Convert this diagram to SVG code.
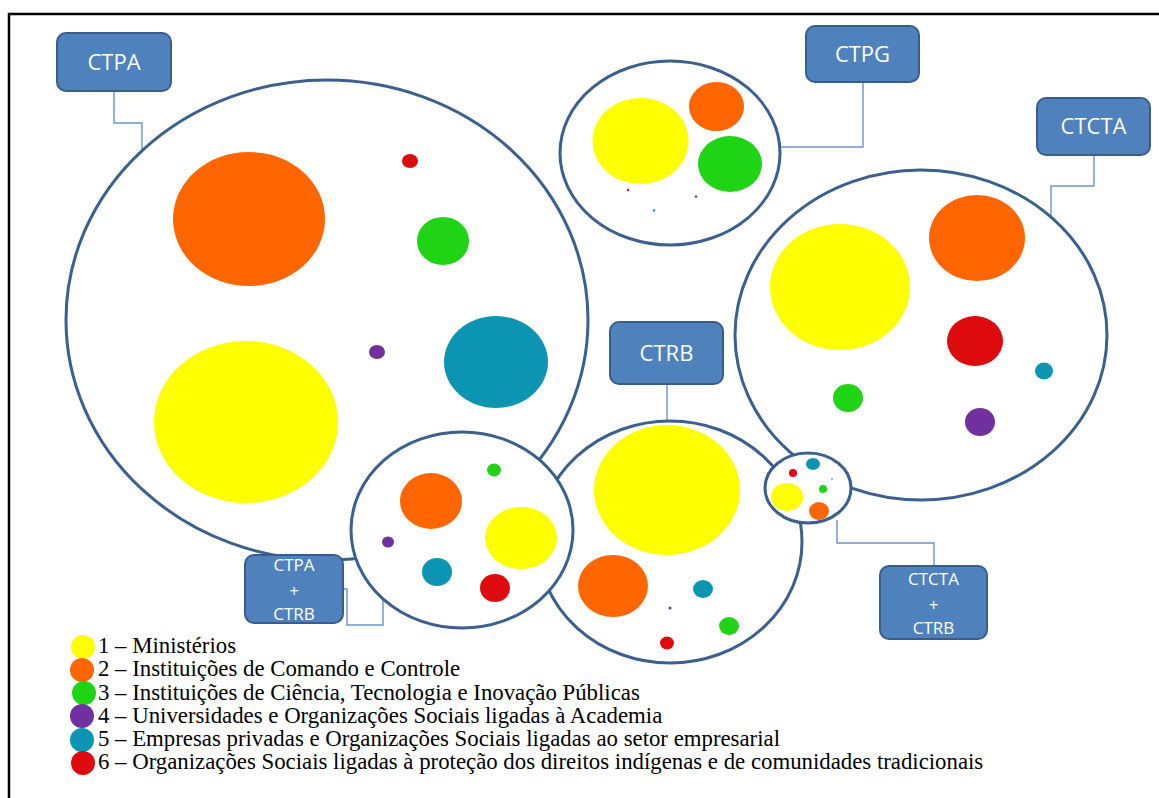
<svg xmlns="http://www.w3.org/2000/svg" width="1159" height="798" viewBox="0 0 1159 798">
<style>
.grp{fill:#fff;stroke:#3A6090;stroke-width:3}
.box{fill:#4F81BD;stroke:#385D8A;stroke-width:2}
.lbl{fill:#fff;font-family:"Open Sans","Liberation Sans",sans-serif;text-anchor:middle}
.conn{fill:none;stroke:#6A95CB;stroke-width:1.4}
.leg{font-family:"Liberation Serif","Times New Roman",serif;font-size:22.8px;fill:#000}
.y{fill:#FFFF00}.o{fill:#FF6600}.g{fill:#1ED414}.p{fill:#7030A0}.t{fill:#0C95B3}.r{fill:#DD0A0E}
</style>
<rect x="0" y="0" width="1159" height="798" fill="#fff"/>
<rect x="9" y="14" width="1170" height="800" fill="none" stroke="#000" stroke-width="2.5"/>

<g id="connectors">
<path class="conn" d="M114,91 V123 H142 V150"/>
<path class="conn" d="M863,82 V147 H781"/>
<path class="conn" d="M1094,155 V186 H1051 V217"/>
<path class="conn" d="M667,384 V422"/>
<path class="conn" d="M343,589 H347 V625 H383 V600"/>
<path class="conn" d="M837,520 V543 H934 V566"/>
</g>

<g id="circle-ctpa">
<ellipse class="grp" cx="327" cy="320" rx="261" ry="240"/>
<ellipse class="o" cx="249" cy="219" rx="76" ry="67"/>
<ellipse class="r" cx="410" cy="161" rx="8" ry="7"/>
<ellipse class="g" cx="443" cy="241" rx="26" ry="24"/>
<ellipse class="p" cx="377" cy="352" rx="8" ry="7"/>
<ellipse class="t" cx="496" cy="362" rx="52" ry="46"/>
<ellipse class="y" cx="246" cy="422" rx="92" ry="81"/>
</g>

<g id="circle-ctpg">
<ellipse class="grp" cx="670" cy="153" rx="110" ry="92"/>
<ellipse class="y" cx="640.5" cy="141" rx="48" ry="43"/>
<ellipse class="o" cx="716.5" cy="106.5" rx="27.5" ry="24.5"/>
<ellipse class="g" cx="730" cy="164" rx="32" ry="28"/>
<circle class="r" cx="628" cy="190" r="1.2"/>
<circle class="p" cx="696" cy="196.5" r="1.2"/>
<circle class="t" cx="654" cy="210.5" r="1.2"/>
</g>

<g id="circle-ctcta">
<ellipse class="grp" cx="921" cy="335" rx="186" ry="165"/>
<ellipse class="y" cx="840" cy="287" rx="70" ry="63"/>
<ellipse class="o" cx="977" cy="238" rx="48" ry="43"/>
<ellipse class="r" cx="975" cy="341" rx="28" ry="25"/>
<ellipse class="t" cx="1044" cy="371" rx="9" ry="8.5"/>
<ellipse class="g" cx="848" cy="398" rx="15" ry="14"/>
<ellipse class="p" cx="980" cy="422" rx="15" ry="14"/>
</g>

<g id="circle-ctrb">
<ellipse class="grp" cx="670" cy="542" rx="132" ry="121"/>
<ellipse class="y" cx="667" cy="490" rx="73" ry="65"/>
<ellipse class="o" cx="613" cy="586" rx="35" ry="31"/>
<ellipse class="t" cx="703" cy="589" rx="10" ry="9"/>
<circle class="p" cx="670" cy="608" r="1.5"/>
<ellipse class="g" cx="729" cy="626" rx="10" ry="9"/>
<ellipse class="r" cx="667" cy="643" rx="7" ry="6.5"/>
</g>

<g id="circle-ctpa-ctrb">
<ellipse class="grp" cx="462" cy="530" rx="111" ry="98"/>
<ellipse class="o" cx="431" cy="501" rx="31" ry="28"/>
<ellipse class="g" cx="494" cy="470" rx="7" ry="6.5"/>
<ellipse class="y" cx="521" cy="538" rx="36" ry="31"/>
<ellipse class="p" cx="388" cy="542" rx="6" ry="5.5"/>
<ellipse class="t" cx="437" cy="572" rx="15" ry="14"/>
<ellipse class="r" cx="495" cy="588" rx="15" ry="14"/>
</g>

<g id="circle-ctcta-ctrb">
<ellipse class="grp" cx="808" cy="488" rx="43" ry="35"/>
<circle class="r" cx="793" cy="473" r="4"/>
<ellipse class="t" cx="813" cy="464" rx="7" ry="6"/>
<circle class="p" cx="832" cy="479" r="0.8"/>
<circle class="g" cx="823" cy="489" r="4"/>
<ellipse class="y" cx="787" cy="497" rx="16" ry="14"/>
<ellipse class="o" cx="819" cy="511" rx="10" ry="9"/>
</g>

<g id="box-ctpa">
<rect class="box" x="57" y="33" width="114" height="58" rx="9"/>
<text class="lbl" x="114" y="70" font-size="22">CTPA</text>
</g>
<g id="box-ctpg">
<rect class="box" x="806" y="26" width="113" height="56" rx="9"/>
<text class="lbl" x="862.5" y="62" font-size="22">CTPG</text>
</g>
<g id="box-ctcta">
<rect class="box" x="1037" y="98" width="113" height="57" rx="9"/>
<text class="lbl" x="1093.5" y="134" font-size="22">CTCTA</text>
</g>
<g id="box-ctrb">
<rect class="box" x="610" y="322" width="113" height="62" rx="9"/>
<text class="lbl" x="666.5" y="361" font-size="22">CTRB</text>
</g>
<g id="box-ctpa-ctrb">
<rect class="box" x="245" y="555" width="98" height="68" rx="9"/>
<text class="lbl" font-size="17"><tspan x="294" y="571">CTPA</tspan><tspan x="294" y="597">+</tspan><tspan x="294" y="620">CTRB</tspan></text>
</g>
<g id="box-ctcta-ctrb">
<rect class="box" x="880" y="566" width="107" height="73" rx="9"/>
<text class="lbl" font-size="17"><tspan x="933.5" y="585">CTCTA</tspan><tspan x="933.5" y="611">+</tspan><tspan x="933.5" y="634">CTRB</tspan></text>
</g>

<g id="legend">
<ellipse class="y" cx="83" cy="647" rx="12" ry="12"/>
<ellipse class="o" cx="82" cy="670" rx="12" ry="12"/>
<ellipse class="g" cx="84" cy="693" rx="12" ry="12"/>
<ellipse class="p" cx="82" cy="716" rx="12" ry="12"/>
<ellipse class="t" cx="82" cy="740" rx="12" ry="12"/>
<ellipse class="r" cx="83" cy="763" rx="12" ry="12"/>
<text class="leg" x="98" y="653">1 – Ministérios</text>
<text class="leg" x="98" y="676">2 – Instituições de Comando e Controle</text>
<text class="leg" x="98" y="699.5">3 – Instituições de Ciência, Tecnologia e Inovação Públicas</text>
<text class="leg" x="98" y="722.5">4 – Universidades e Organizações Sociais ligadas à Academia</text>
<text class="leg" x="98" y="746">5 – Empresas privadas e Organizações Sociais ligadas ao setor empresarial</text>
<text class="leg" x="98" y="769">6 – Organizações Sociais ligadas à proteção dos direitos indígenas e de comunidades tradicionais</text>
</g>
</svg>
